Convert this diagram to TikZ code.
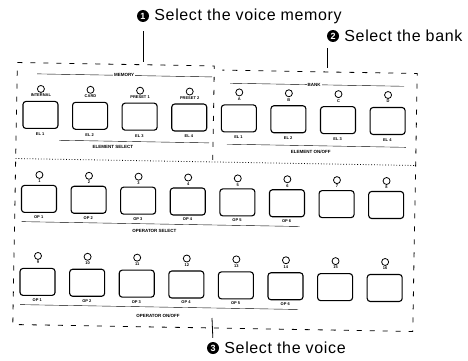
\documentclass[tikz,border=0pt]{standalone}
\usepackage{fontspec}
\setmainfont{Liberation Sans}
\usetikzlibrary{positioning,calc}
\begin{document}
\begin{tikzpicture}[x=1pt,y=-1pt,
 btn/.style={draw,line width=1.1pt,rounded corners=3pt,minimum width=35pt,minimum height=27pt,inner sep=0pt},
 led/.style={draw,circle,minimum size=7pt,inner sep=0pt,line width=0.8pt},
 tag/.style={font=\fontsize{4}{4}\selectfont\bfseries,inner sep=0.5pt},
 grp/.style={font=\fontsize{4.5}{5}\selectfont\bfseries,inner sep=1pt,fill=white},
 frm/.style={line width=0.8pt,dash pattern=on 5pt off 8pt},
 num/.style={circle,fill=black,text=white,inner sep=0pt,minimum size=12pt,font=\bfseries\fontsize{9}{9}\selectfont},
 ttl/.style={font=\fontsize{16}{17}\selectfont\addfontfeature{LetterSpace=4},inner sep=0pt}]
\useasboundingbox (0,0) rectangle (468,361);
\node[num] (n1) at (143,16) {1};
\node[ttl,right=5pt of n1] (t1) {Select the voice memory};
\node[num] (n2) at (333,36) {2};
\node[ttl,right=5pt of n2] (t2) {Select the bank};
\node[num] (n3) at (213,348) {3};
\node[ttl,right=5pt of n3] (t3) {Select the voice};
\begin{scope}[rotate around={-1:(215,200)}]
\draw[frm] (212,160) -- (212,66) -- (15,66) -- (15,328) -- (415,328) -- (415,70) -- (220,70);
\draw[dotted,line width=0.8pt] (15,162) -- (415,162);
\draw[thin] (35,77) -- (210,77);
\node[grp] (mem) at (122,77) {MEMORY};
\draw[thin] (228,83) -- (402,83);
\node[grp] (bank) at (312,83) {BANK};
\foreach \t [count=\i] in {INTERNAL,CARD,PRESET 1,PRESET 2,A,B,C,D}{
 \pgfmathsetmacro\x{39+49.6*(\i-1)}
 \node[led] (l\i) at (\x,92) {};
 \node[tag,below=0.5pt of l\i] (lt\i) {\t};
 \node[btn] (s\i) at (\x,118) {};
 \node[tag] (e\i) at (\x,137) {EL \pgfmathparse{int(mod(\i-1,4)+1)}\pgfmathresult};
}
\draw[thin] (58,143) -- (208,143);
\node[grp] (esel) at (112,149) {ELEMENT SELECT};
\draw[thin] (226,144) -- (405,144);
\node[grp] (eon) at (310,150) {ELEMENT ON/OFF};
\foreach \i in {1,...,8}{
 \pgfmathsetmacro\x{39+49.6*(\i-1)}
 \pgfmathtruncatemacro\j{\i+8}
 \node[led] (v\i) at (\x,178) {};
 \node[tag,below=0.5pt of v\i] (vn\i) {\i};
 \node[btn] (k\i) at (\x,202) {};
 \node[led] (v\j) at (\x,259) {};
 \node[tag,below=0.5pt of v\j] (vn\j) {\j};
 \node[btn] (k\j) at (\x,285) {};
}
\foreach \i in {1,...,6}{
 \pgfmathsetmacro\x{39+49.6*(\i-1)}
 \pgfmathtruncatemacro\j{\i+8}
 \node[tag] (o\i) at (\x,220) {OP \i};
 \node[tag] (o\j) at (\x,303) {OP \i};
}
\draw[thin] (22,225) -- (300,225);
\node[grp] (osel) at (155,232) {OPERATOR SELECT};
\draw[thin] (22,308) -- (300,308);
\node[grp] (oon) at (160,317) {OPERATOR ON/OFF};
\end{scope}
\coordinate (p1) at (143,62);
\coordinate (p2) at (327,68);
\coordinate (p3) at (212,318);
\draw[line width=0.8pt,shorten <=9pt] (n1.south) -- (p1);
\draw[line width=0.8pt,shorten <=6pt] (p2 |- n2.south) -- (p2);
\draw[line width=0.8pt,shorten <=4pt] (n3.north) -- (p3);
\end{tikzpicture}
\end{document}
